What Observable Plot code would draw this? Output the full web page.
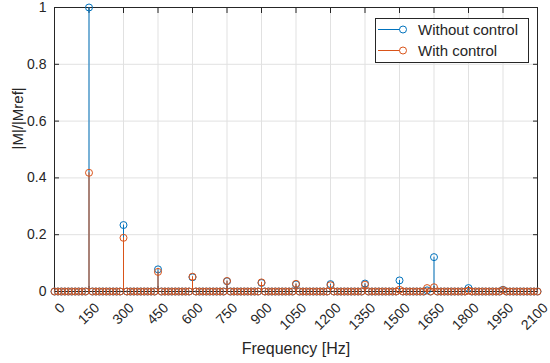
<!DOCTYPE html>
<html><head><meta charset="utf-8">
<script src="https://cdn.jsdelivr.net/npm/d3@7"></script>
<script src="https://cdn.jsdelivr.net/npm/@observablehq/plot@0.6"></script>
<style>
html,body{margin:0;padding:0;background:#fff;}
#chart{position:relative;width:550px;height:363px;font-family:"Liberation Sans",Arial,sans-serif;color:#262626;}
#legend{position:absolute;left:375px;top:18px;width:152px;height:43px;border:1px solid #262626;background:#fff;}
#legend svg{display:block;}
</style></head><body><div id="chart"></div>
<script>
// Frequency grid (Hz), 15 Hz resolution
const freqHz = [
  0,15,30,45,60,75,90,105,120,135,
  150,165,180,195,210,225,240,255,270,285,
  300,315,330,345,360,375,390,405,420,435,
  450,465,480,495,510,525,540,555,570,585,
  600,615,630,645,660,675,690,705,720,735,
  750,765,780,795,810,825,840,855,870,885,
  900,915,930,945,960,975,990,1005,1020,1035,
  1050,1065,1080,1095,1110,1125,1140,1155,1170,1185,
  1200,1215,1230,1245,1260,1275,1290,1305,1320,1335,
  1350,1365,1380,1395,1410,1425,1440,1455,1470,1485,
  1500,1515,1530,1545,1560,1575,1590,1605,1620,1635,
  1650,1665,1680,1695,1710,1725,1740,1755,1770,1785,
  1800,1815,1830,1845,1860,1875,1890,1905,1920,1935,
  1950,1965,1980,1995,2010,2025,2040,2055,2070,2085,
  2100
];
// |M|/|Mref| without control
const withoutControl = [
  0,0,0,0,0,0,0,0,0,0,
  1.000,0,0,0,0,0,0,0,0,0,
  0.234,0,0,0,0,0,0,0,0,0,
  0.078,0,0,0,0,0,0,0,0,0,
  0.050,0,0,0,0,0,0,0,0,0,
  0.036,0,0,0,0,0,0,0,0,0,
  0.030,0,0,0,0,0,0,0,0,0,
  0.025,0,0,0,0,0,0,0,0,0,
  0.026,0,0,0,0,0,0,0,0,0,
  0.028,0,0,0,0,0,0,0,0,0,
  0.039,0,0,0,0,0,0,0,0.004,0,
  0.121,0,0,0,0,0,0,0,0,0,
  0.012,0,0,0,0,0,0,0,0,0,
  0.006,0,0,0,0,0,0,0,0,0,
  0
];
// |M|/|Mref| with control
const withControl = [
  0,0,0,0,0,0,0,0,0,0,
  0.418,0,0,0,0,0,0,0,0,0,
  0.189,0,0,0,0,0,0,0,0,0,
  0.069,0,0,0,0,0,0,0,0,0,
  0.052,0,0,0,0,0,0,0,0,0,
  0.037,0,0,0,0,0,0,0,0,0,
  0.032,0,0,0,0,0,0,0,0,0,
  0.027,0,0,0,0,0,0,0,0,0,
  0.022,0,0,0,0,0,0,0,0,0,
  0.024,0,0,0,0,0,0,0,0,0,
  0.006,0,0,0,0,0,0,0,0.012,0,
  0.015,0,0,0,0,0,0,0,0,0,
  0.003,0,0,0,0,0,0,0,0,0,
  0.005,0,0,0,0,0,0,0,0,0,
  0
];
const seriesNames = ["Without control", "With control"];
const seriesColors = ["#0072BD", "#D95319"];
const xTicks = [0,150,300,450,600,750,900,1050,1200,1350,1500,1650,1800,1950,2100];
const yTicks = [0,0.2,0.4,0.6,0.8,1];
const xLabel = "Frequency [Hz]";
const yLabel = "|M|/|Mref|";

const rowsA = freqHz.map((f, i) => ({f, v: withoutControl[i]}));
const rowsB = freqHz.map((f, i) => ({f, v: withControl[i]}));
const font = '"Liberation Sans", Arial, sans-serif';
const axisColor = "#262626";
const gridColor = "#e1e1e1";

const plot = Plot.plot({
  width: 550, height: 363,
  marginLeft: 54, marginRight: 13, marginTop: 7, marginBottom: 72,
  x: {domain: [0, 2100]},
  y: {domain: [0, 1]},
  style: {fontFamily: font, fontSize: "14px", color: axisColor, background: "#fff", overflow: "visible"},
  marks: [
    Plot.gridX(xTicks, {stroke: gridColor, strokeOpacity: 1}),
    Plot.gridY(yTicks, {stroke: gridColor, strokeOpacity: 1}),
    Plot.frame({stroke: axisColor, strokeWidth: 1}),
    Plot.axisX(xTicks, {anchor: "bottom", tickSize: 5, dy: -5, fill: "none", tickFormat: () => "", label: null, stroke: axisColor}),
    Plot.axisX(xTicks, {anchor: "top", tickSize: 5, dy: 5, fill: "none", tickFormat: () => "", label: null, stroke: axisColor}),
    Plot.axisY(yTicks, {anchor: "left", tickSize: 5, dx: 5, fill: "none", tickFormat: () => "", label: null, stroke: axisColor}),
    Plot.axisY(yTicks, {anchor: "right", tickSize: 5, dx: -5, fill: "none", tickFormat: () => "", label: null, stroke: axisColor}),
    Plot.axisX(xTicks, {anchor: "bottom", tickSize: 0, tickPadding: 14, tickRotate: -45, textAnchor: "end", lineAnchor: "middle", dx: 8, tickFormat: d => String(d), label: null, fontSize: 14, fill: axisColor}),
    Plot.axisY(yTicks, {anchor: "left", tickSize: 0, tickPadding: 8, tickFormat: d => String(d), label: null, fontSize: 14, fill: axisColor}),
    Plot.ruleX(rowsA, {x: "f", y1: 0, y2: "v", stroke: seriesColors[0], strokeWidth: 1}),
    Plot.dot(rowsA, {x: "f", y: "v", r: 3.5, stroke: seriesColors[0], fill: "none", strokeWidth: 1}),
    Plot.ruleX(rowsB, {x: "f", y1: 0, y2: "v", stroke: seriesColors[1], strokeWidth: 1}),
    Plot.dot(rowsB, {x: "f", y: "v", r: 3.5, stroke: seriesColors[1], fill: "none", strokeWidth: 1}),
    Plot.text([xLabel], {text: d => d, frameAnchor: "bottom", dy: 57, fontSize: 16, lineAnchor: "middle", fill: axisColor}),
    Plot.text([yLabel], {text: d => d, frameAnchor: "left", rotate: -90, dx: -36, fontSize: 15, lineAnchor: "middle", fill: axisColor})
  ]
});
document.getElementById("chart").appendChild(plot);

const legend = d3.select("#chart").append("div").attr("id", "legend");
const lsvg = legend.append("svg").attr("width", 152).attr("height", 43);
seriesNames.forEach((name, i) => {
  const g = lsvg.append("g").attr("transform", `translate(0,${10.5 + i * 21})`);
  g.append("line").attr("x1", 2).attr("x2", 27).attr("stroke", seriesColors[i]).attr("stroke-width", 1);
  g.append("circle").attr("cx", 27).attr("r", 3.5).attr("fill", "#fff").attr("stroke", seriesColors[i]);
  g.append("text").attr("x", 42).attr("dy", "0.35em").attr("font-size", 15)
    .attr("font-family", font).attr("fill", axisColor).text(name);
});
</script>
</body></html>
